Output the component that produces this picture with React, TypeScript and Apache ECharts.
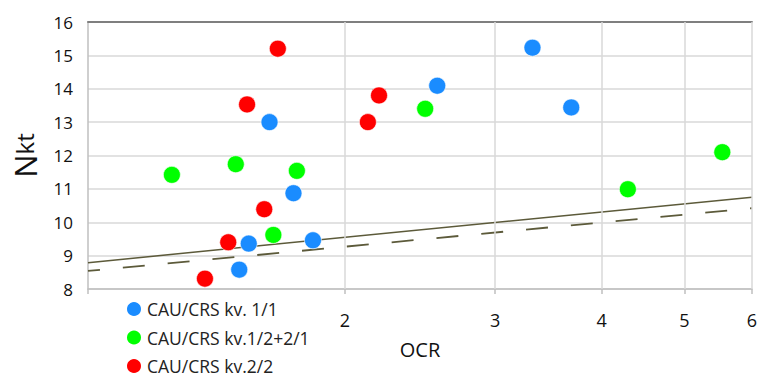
import React, { useEffect, useRef } from "react";
import * as echarts from "echarts";

const seriesNames = ["CAU/CRS kv. 1/1", "CAU/CRS kv.1/2+2/1", "CAU/CRS kv.2/2"];
const seriesColors = ["#1a8cff", "#00ff00", "#ff0000"];

const blueOCR = [1.632, 1.741, 2.566, 3.318, 3.684, 1.543, 1.835, 1.504];
const blueNkt = [13.0, 10.87, 14.09, 15.23, 13.44, 9.36, 9.46, 8.58];

const greenOCR = [1.49, 1.254, 1.757, 2.484, 5.538, 4.292, 1.649];
const greenNkt = [11.74, 11.42, 11.54, 13.4, 12.1, 10.99, 9.62];

const redOCR = [1.669, 1.536, 2.128, 2.193, 1.609, 1.46, 1.371];
const redNkt = [15.2, 13.53, 13.0, 13.8, 10.39, 9.4, 8.31];

const solidLineOCR = [1, 6];
const solidLineNkt = [8.79, 10.75];
const dashedLineOCR = [1, 6];
const dashedLineNkt = [8.54, 10.42];

const xTickValues = [1, 2, 3, 4, 5, 6];
const xLabelValues = [2, 3, 4, 5, 6];
const xGridValues = [2, 3, 4, 5, 6];

const FONT = "'Open Sans', sans-serif";

function pairs(xs: number[], ys: number[]) {
  return xs.map((x, i) => [x, ys[i]]);
}

export default function App() {
  const ref = useRef<HTMLDivElement>(null);
  useEffect(() => {
    if (!ref.current) return;
    const chart = echarts.init(ref.current, undefined, { renderer: "svg" });
    const scatterData = [
      pairs(blueOCR, blueNkt),
      pairs(greenOCR, greenNkt),
      pairs(redOCR, redNkt),
    ];
    chart.setOption({
      animation: false,
      backgroundColor: "#ffffff",
      textStyle: { fontFamily: FONT },
      grid: { left: 88, right: 18, top: 22, bottom: 99 },
      legend: {
        data: seriesNames,
        orient: "vertical",
        left: 125,
        top: 300,
        padding: 0,
        icon: "circle",
        itemWidth: 16,
        itemHeight: 16,
        itemGap: 10.5,
        textStyle: { fontFamily: FONT, fontSize: 17.5, color: "#222", lineHeight: 18 },
      },
      xAxis: [
        {
          type: "log",
          min: 1,
          max: 6,
          name: "OCR",
          nameLocation: "middle",
          nameGap: 50,
          nameTextStyle: { fontFamily: FONT, fontSize: 20, color: "#111" },
          axisLine: { show: true, lineStyle: { color: "#bfbfbf", width: 1.5 } },
          axisTick: {
            show: true,
            customValues: xTickValues,
            length: 5,
            lineStyle: { color: "#bfbfbf", width: 1.5 },
          },
          axisLabel: {
            customValues: xLabelValues,
            fontFamily: FONT,
            fontSize: 18,
            color: "#111",
            margin: 22,
          },
          splitLine: { show: false },
          minorSplitLine: { show: false },
        },
        {
          type: "log",
          min: 1,
          max: 6,
          position: "top",
          axisLine: { show: true, lineStyle: { color: "#7f7f7f", width: 2 } },
          axisTick: { show: false },
          axisLabel: { show: false },
          splitLine: { show: false },
        },
      ],
      yAxis: {
        type: "value",
        min: 8,
        max: 16,
        interval: 1,
        name: "{a|N}{b|kt}",
        nameLocation: "middle",
        nameGap: 48,
        nameTextStyle: {
          rich: {
            a: { fontFamily: FONT, fontSize: 31, color: "#111" },
            b: { fontFamily: FONT, fontSize: 24, color: "#111" },
          },
        },
        axisLine: { show: true, lineStyle: { color: "#bfbfbf", width: 1.5 } },
        axisTick: { show: false },
        axisLabel: { fontFamily: FONT, fontSize: 17, color: "#111", margin: 15 },
        splitLine: { show: true, lineStyle: { color: "#d9d9d9", width: 1.5 } },
      },
      series: [
        {
          type: "scatter",
          data: [],
          z: 1,
          silent: true,
          markLine: {
            silent: true,
            symbol: "none",
            label: { show: false },
            lineStyle: { color: "#d9d9d9", width: 1.5, type: "solid" },
            data: xGridValues.map((v) => ({ xAxis: v })),
          },
        },
        {
          type: "line",
          data: pairs(solidLineOCR, solidLineNkt),
          symbol: "none",
          z: 2,
          silent: true,
          lineStyle: { color: "#5c5a3a", width: 1.5 },
        },
        {
          type: "line",
          data: pairs(dashedLineOCR, dashedLineNkt),
          symbol: "none",
          z: 2,
          silent: true,
          lineStyle: { color: "#5c5a3a", width: 1.8, type: [22, 23], dashOffset: 10 },
        },
        ...seriesNames.map((name, i) => ({
          type: "scatter",
          name,
          data: scatterData[i],
          symbol: "circle",
          symbolSize: 17,
          z: 3,
          itemStyle: { color: seriesColors[i], borderColor: "#ffffff", borderWidth: 0.6, opacity: 1 },
        })),
      ],
    });
    return () => chart.dispose();
  }, []);
  return (
    <div
      ref={ref}
      style={{ position: "absolute", left: 0, top: 0, width: 770, height: 388 }}
    />
  );
}
